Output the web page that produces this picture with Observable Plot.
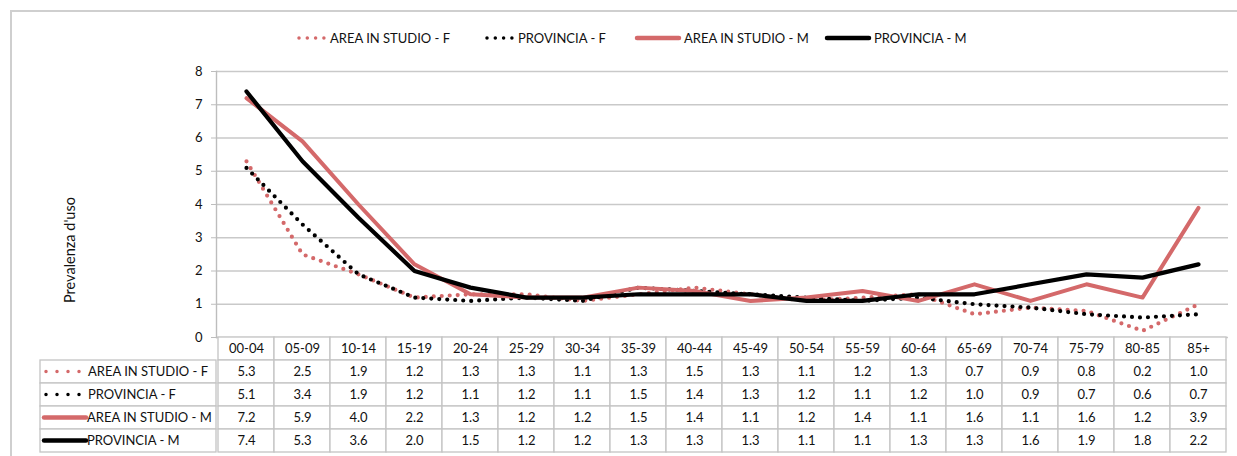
<!DOCTYPE html>
<html><head><meta charset="utf-8">
<script src="https://cdn.jsdelivr.net/npm/d3@7"></script>
<script src="https://cdn.jsdelivr.net/npm/@observablehq/plot@0.6"></script>
<style>
html,body{margin:0;padding:0;background:#fff;}
body{width:1237px;height:456px;position:relative;overflow:hidden;font-family:Lato,"Open Sans",sans-serif;color:#111;}
#frame{position:absolute;left:10px;top:10px;width:1240px;height:470px;border-left:2px solid #cfcfcf;border-top:2px solid #cfcfcf;box-sizing:border-box;}
#legend{position:absolute;top:29px;left:0;width:1237px;height:18px;font-size:13px;}
.li{position:absolute;top:0;display:flex;align-items:center;height:18px;white-space:nowrap;}
.li svg{margin-right:4px;}
#ytitle{position:absolute;left:69px;top:250px;transform:translate(-50%,-50%) rotate(-90deg);font-size:14.5px;white-space:nowrap;}
#chart,#table{position:absolute;left:0;}
#chart{top:0;}#table{top:337px;}
svg{overflow:visible;}
svg text{font-family:Lato,"Open Sans",sans-serif;}
</style></head>
<body>
<div id="frame"></div>
<div id="legend"></div>
<div id="ytitle">Prevalenza d'uso</div>
<div id="chart"></div>
<div id="table"></div>
<script>
const categories = ["00-04","05-09","10-14","15-19","20-24","25-29","30-34","35-39","40-44","45-49","50-54","55-59","60-64","65-69","70-74","75-79","80-85","85+"];
const areaF = [5.3,2.5,1.9,1.2,1.3,1.3,1.1,1.3,1.5,1.3,1.1,1.2,1.3,0.7,0.9,0.8,0.2,1.0];
const provF = [5.1,3.4,1.9,1.2,1.1,1.2,1.1,1.5,1.4,1.3,1.2,1.1,1.2,1.0,0.9,0.7,0.6,0.7];
const areaM = [7.2,5.9,4.0,2.2,1.3,1.2,1.2,1.5,1.4,1.1,1.2,1.4,1.1,1.6,1.1,1.6,1.2,3.9];
const provM = [7.4,5.3,3.6,2.0,1.5,1.2,1.2,1.3,1.3,1.3,1.1,1.1,1.3,1.3,1.6,1.9,1.8,2.2];
const seriesNames = ["AREA IN STUDIO - F","PROVINCIA - F","AREA IN STUDIO - M","PROVINCIA - M"];
const yTicks = [0,1,2,3,4,5,6,7,8];

const PINK = "#d4696a", BLACK = "#000";
const styles = [
  {color: PINK, width: 4.2, dash: "0 8"},
  {color: BLACK, width: 4.2, dash: "0 8"},
  {color: PINK, width: 4, dash: null},
  {color: BLACK, width: 4.2, dash: null}
];
const seriesValues = [areaF, provF, areaM, provM];
const series = seriesNames.map((name, i) => ({name, values: seriesValues[i], style: styles[i]}));

function swatch(st, w) {
  const s = d3.create("svg").attr("width", w).attr("height", 10);
  const l = s.append("line").attr("x1", st.dash ? 3 : 1).attr("x2", w - 1).attr("y1", 5).attr("y2", 5)
    .attr("stroke", st.color).attr("stroke-width", st.dash ? 3.5 : 4.5).attr("stroke-linecap", "round");
  if (st.dash) l.attr("stroke-dasharray", "0 8.3");
  return s.node();
}

// Legend
const legendPos = [296, 484, 636, 826];
const legend = d3.select("#legend");
series.forEach((s, i) => {
  const d = legend.append("div").attr("class", "li").style("left", legendPos[i] + "px");
  d.node().appendChild(swatch(s.style, s.style.dash ? 30 : 44));
  d.append("span").text(s.name);
});

// Chart
const lineData = series.flatMap(s => s.values.map((v, j) => ({series: s.name, cat: categories[j], v})));
const chart = Plot.plot({
  width: 1237, height: 338,
  marginTop: 71, marginBottom: 1, marginLeft: 216, marginRight: 9,
  style: {fontFamily: "Lato, 'Open Sans', sans-serif", fontSize: "13px", color: "#111", background: "transparent", overflow: "visible"},
  x: {type: "band", domain: categories, padding: 0, axis: null},
  y: {domain: [0, 8]},
  marks: [
    Plot.ruleY(yTicks, {stroke: "#c9c9c9", strokeWidth: 1.7}),
    Plot.axisY({ticks: yTicks, tickSize: 5, tickPadding: 9, stroke: "#bdbdbd", fontSize: 13, label: null, tickFormat: d => d}),
    Plot.frame({anchor: "left", stroke: "#bdbdbd", strokeWidth: 1.4}),
    ...series.map(s => Plot.line(lineData.filter(d => d.series === s.name), {
      x: "cat", y: "v", stroke: s.style.color, strokeWidth: s.style.width,
      strokeDasharray: s.style.dash || undefined, strokeLinecap: "round", strokeLinejoin: "round"
    }))
  ]
});
document.getElementById("chart").appendChild(chart);

// Table
const rows = ["header", ...seriesNames];
const headerData = categories.map(c => ({cat: c, row: "header", label: c}));
const cellData = series.flatMap(s => s.values.map((v, j) => ({cat: categories[j], row: s.name, label: v.toFixed(1)})));
const tableData = headerData.concat(cellData);
const table = Plot.plot({
  width: 1237, height: 116,
  marginTop: 0, marginBottom: 1, marginLeft: 216, marginRight: 9,
  style: {fontFamily: "Lato, 'Open Sans', sans-serif", fontSize: "13px", color: "#111", background: "transparent", overflow: "visible"},
  x: {type: "band", domain: categories, padding: 0, axis: null},
  y: {type: "band", domain: rows, padding: 0, axis: null},
  marks: [
    Plot.cell(tableData, {x: "cat", y: "row", fill: "white", stroke: "#c4c4c4", strokeWidth: 1.3}),
    Plot.text(tableData, {x: "cat", y: "row", text: "label", fontSize: 13, fill: "#111"})
  ]
});
document.getElementById("table").appendChild(table);

// Label column of the data table, placed with the table's y scale
const ys = table.scale("y");
const bw = ys.bandwidth;
const lab = d3.select(table).append("g");
series.forEach(s => {
  const y0 = ys.apply(s.name);
  lab.append("rect").attr("x", 40).attr("y", y0).attr("width", 176).attr("height", bw)
    .attr("fill", "white").attr("stroke", "#c4c4c4").attr("stroke-width", 1.3);
  const ln = lab.append("line").attr("x1", s.style.dash ? 46 : 44).attr("x2", s.style.dash ? 80 : 86)
    .attr("y1", y0 + bw / 2).attr("y2", y0 + bw / 2)
    .attr("stroke", s.style.color).attr("stroke-width", s.style.dash ? 3.5 : 4.5).attr("stroke-linecap", "round");
  if (s.style.dash) ln.attr("stroke-dasharray", "0 11");
  lab.append("text").attr("x", s.style.dash ? 88 : 87).attr("y", y0 + bw / 2).attr("dy", "0.35em")
    .attr("text-anchor", "start").attr("font-size", 13).attr("fill", "#111").text(s.name);
});
</script>
</body></html>
